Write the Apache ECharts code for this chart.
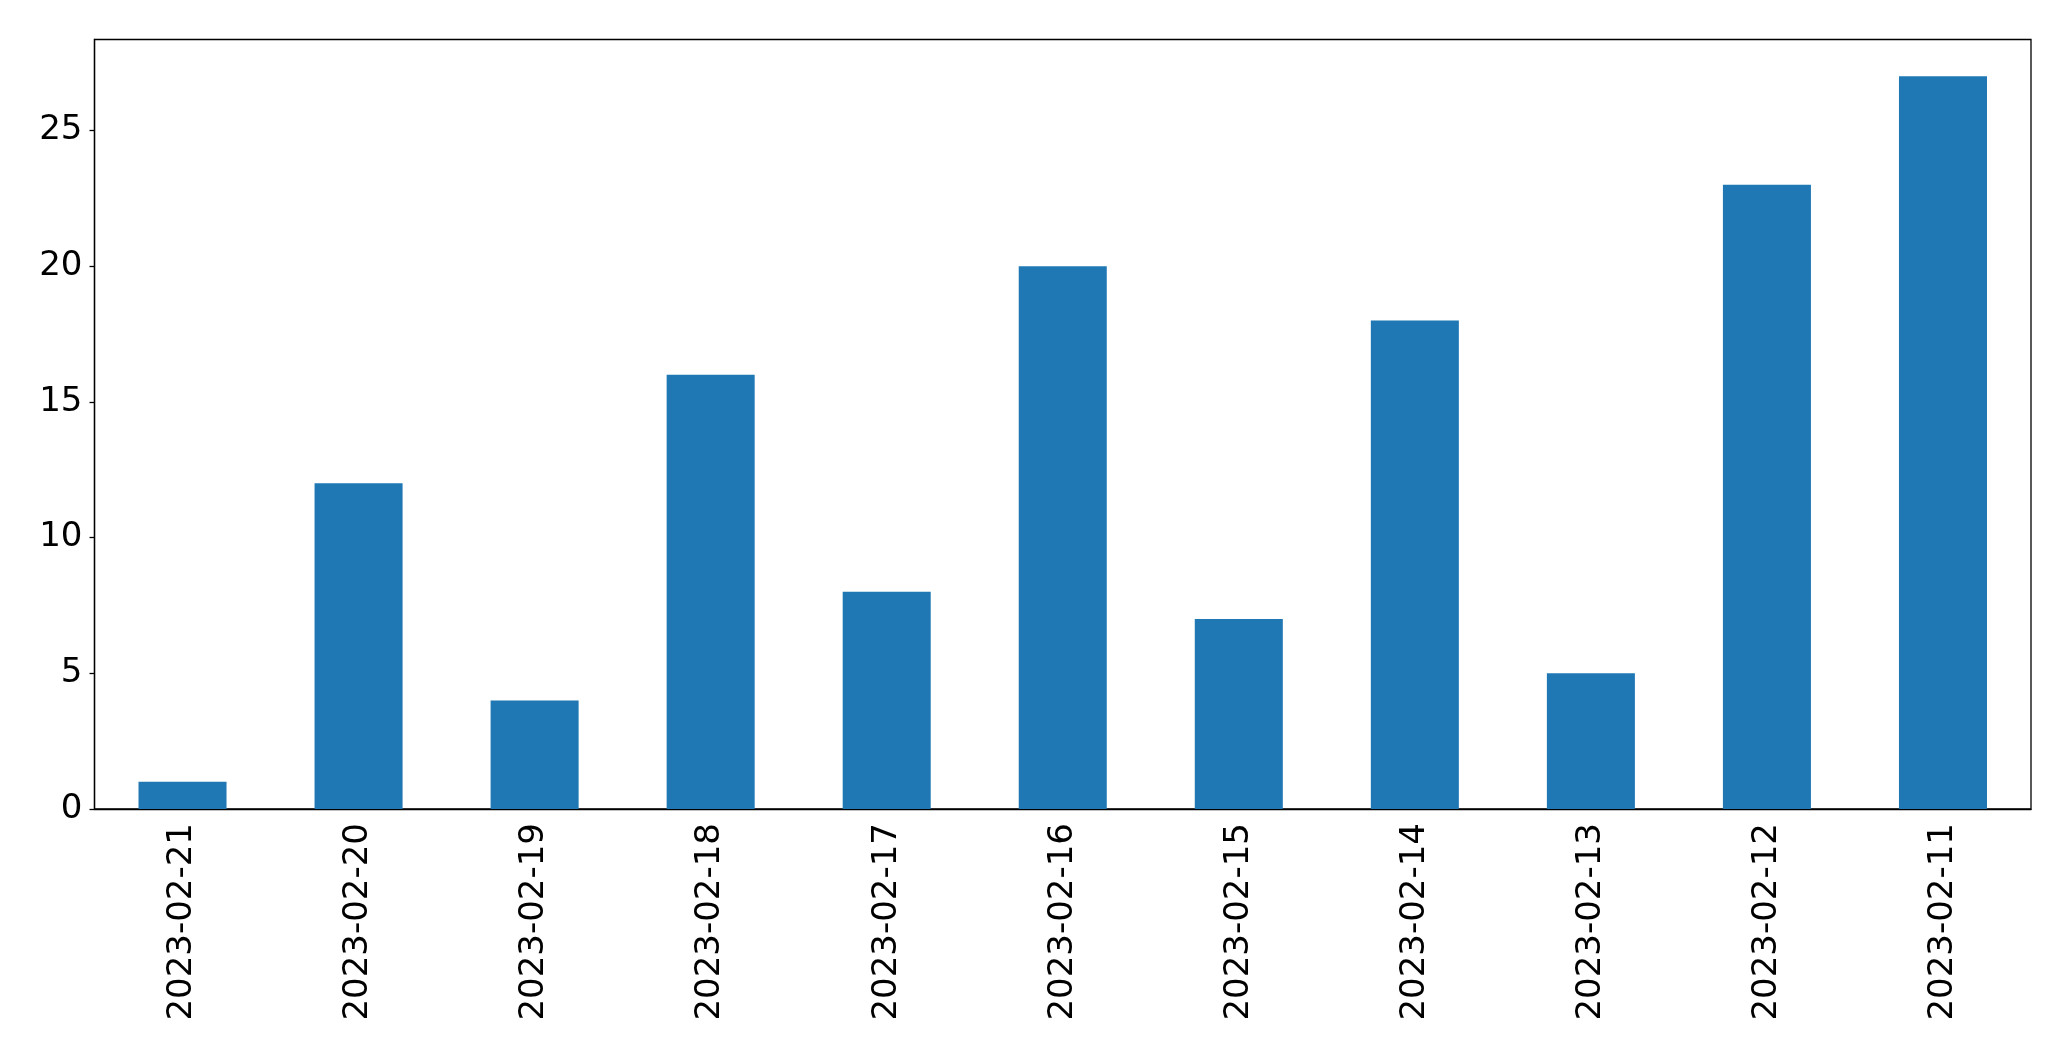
<!DOCTYPE html>
<html>
<head>
<meta charset="utf-8">
<script src="https://cdn.jsdelivr.net/npm/echarts@6/dist/echarts.min.js"></script>
<style>
html,body{margin:0;padding:0;background:#fff;}
#chart{width:2071px;height:1061px;}
</style>
</head>
<body>
<div id="chart"></div>
<script>
const categories = ["2023-02-21","2023-02-20","2023-02-19","2023-02-18","2023-02-17","2023-02-16","2023-02-15","2023-02-14","2023-02-13","2023-02-12","2023-02-11"];
const values = [1, 12, 4, 16, 8, 20, 7, 18, 5, 23, 27];
const yMax = 28.35;

const chart = echarts.init(document.getElementById('chart'), null, {renderer: 'canvas'});
const font = 'DejaVu Sans';
chart.setOption({
  animation: false,
  backgroundColor: '#ffffff',
  grid: {
    left: 94.5, right: 40, top: 39.5, bottom: 252,
    show: true, borderColor: '#000', borderWidth: 1.3, backgroundColor: 'transparent'
  },
  xAxis: {
    type: 'category',
    data: categories,
    axisLine: {lineStyle: {color: '#000', width: 1.3}},
    axisTick: {alignWithLabel: true, length: 5, lineStyle: {color: '#000', width: 1.3}},
    axisLabel: {rotate: 90, margin: 14, color: '#000', fontSize: 34, fontFamily: font},
    splitLine: {show: false}
  },
  yAxis: {
    type: 'value',
    min: 0, max: yMax, interval: 5,
    axisLine: {show: true, lineStyle: {color: '#000', width: 1.3}},
    axisTick: {show: true, length: 5, lineStyle: {color: '#000', width: 1.3}},
    axisLabel: {showMaxLabel: false, margin: 12, color: '#000', fontSize: 34, fontFamily: font},
    splitLine: {show: false}
  },
  series: [{
    type: 'bar',
    data: values,
    barCategoryGap: '50%',
    itemStyle: {color: '#1f77b4'}
  }]
});
</script>
</body>
</html>
